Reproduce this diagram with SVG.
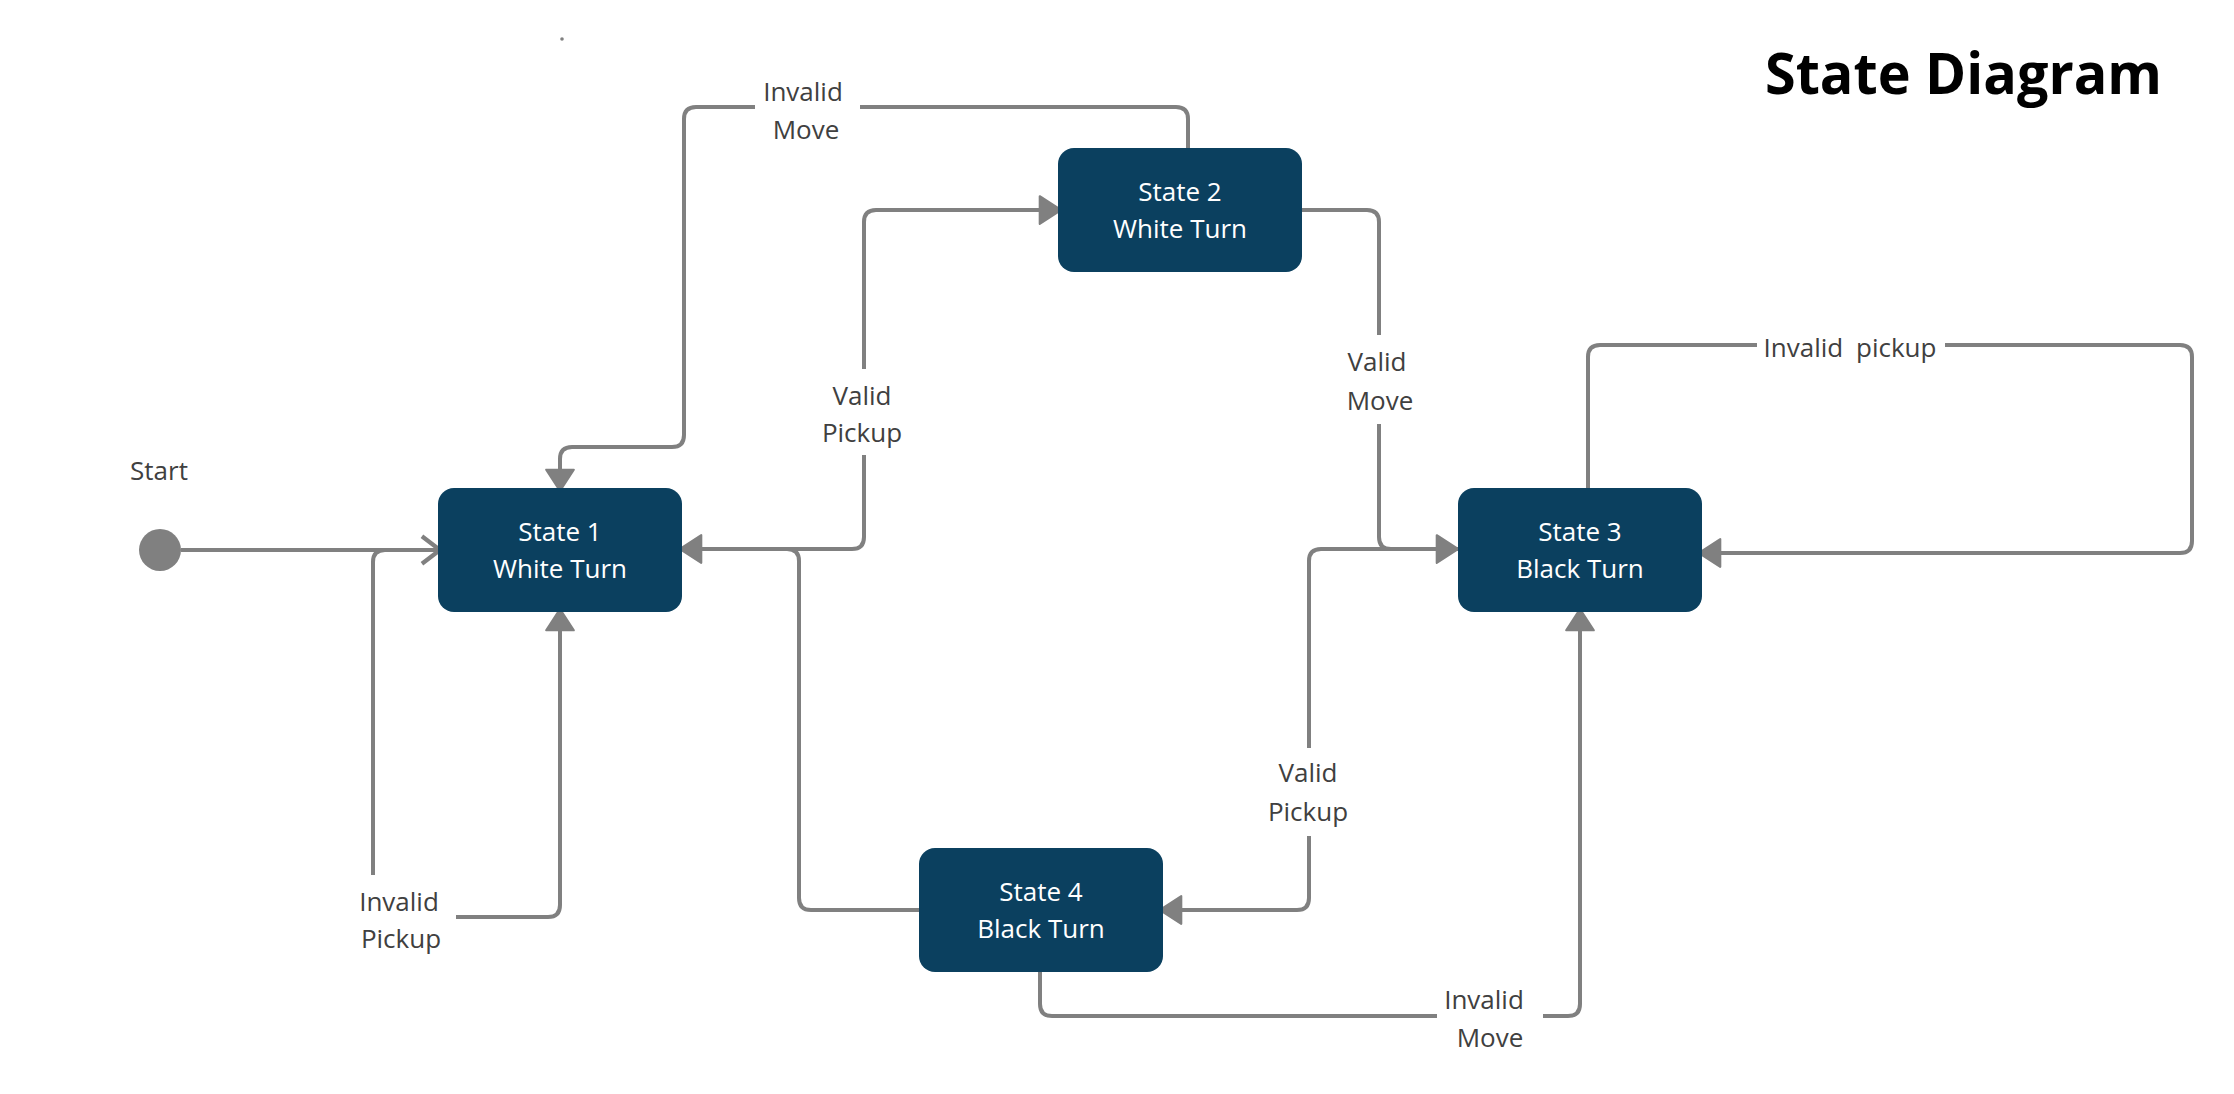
<svg xmlns="http://www.w3.org/2000/svg" width="2234" height="1094" viewBox="0 0 2234 1094">
<style>
.box{fill:#0b405f;}
.bt{font-family:"Open Sans","Noto Sans","Liberation Sans",sans-serif;font-size:26px;fill:#ffffff;text-anchor:middle;}
.lb{font-family:"Open Sans","Noto Sans","Liberation Sans",sans-serif;font-size:26px;fill:#404040;text-anchor:middle;}
.ln{fill:none;stroke:#808080;stroke-width:4;stroke-linecap:butt;stroke-linejoin:round;}
.arr{marker-end:url(#fa);}
</style>
<defs>
<marker id="fa" markerUnits="userSpaceOnUse" markerWidth="30" markerHeight="34" viewBox="-2 -2 26 32" refX="20" refY="13" orient="auto" overflow="visible">
<path d="M0,0 L20,13 L0,26 z" fill="#808080" stroke="#808080" stroke-width="2" stroke-linejoin="round"/>
</marker>
<marker id="oa" markerUnits="userSpaceOnUse" markerWidth="30" markerHeight="34" viewBox="-3 -3 26 32" refX="17" refY="13" orient="auto" overflow="visible">
<path d="M0,0 L17,13 L0,26" fill="none" stroke="#808080" stroke-width="4" stroke-linejoin="miter"/>
</marker>
</defs>
<rect width="2234" height="1094" fill="#ffffff"/>
<text x="1765" y="94" font-family="'Open Sans','Noto Sans','Liberation Sans',sans-serif" font-weight="bold" font-size="58" fill="#000000" textLength="397" lengthAdjust="spacingAndGlyphs">State Diagram</text>
<circle cx="562" cy="39" r="1.8" fill="#808080"/>
<g id="connectors">
<path class="ln" d="M181 550 H440" marker-end="url(#oa)"/>
<path class="ln" d="M373 875 V562 Q373 550 385 550 H430"/>
<path class="ln arr" d="M456 917 H548 Q560 917 560 905 V609"/>
<path class="ln" d="M1188 148 V119 Q1188 107 1176 107 H860"/>
<path class="ln arr" d="M755 107 H696 Q684 107 684 119 V435 Q684 447 672 447 H572 Q560 447 560 459 V491"/>
<path class="ln" d="M680 549 H852 Q864 549 864 537 V455"/>
<path class="ln arr" d="M864 369 V222 Q864 210 876 210 H1061"/>
<path class="ln arr" d="M919 910 H811 Q799 910 799 898 V561 Q799 549 787 549 H680"/>
<path class="ln" d="M1302 210 H1367 Q1379 210 1379 222 V335"/>
<path class="ln arr" d="M1379 424 V537 Q1379 549 1391 549 H1458"/>
<path class="ln" d="M1456 549 H1321 Q1309 549 1309 561 V748"/>
<path class="ln arr" d="M1309 836 V898 Q1309 910 1297 910 H1160"/>
<path class="ln" d="M1588 488 V357 Q1588 345 1600 345 H1757"/>
<path class="ln arr" d="M1945 345 H2180 Q2192 345 2192 357 V541 Q2192 553 2180 553 H1699"/>
<path class="ln" d="M1040 972 V1004 Q1040 1016 1052 1016 H1437"/>
<path class="ln arr" d="M1543 1016 H1568 Q1580 1016 1580 1004 V609"/>
</g>
<g id="start">
<circle cx="160" cy="550" r="21" fill="#808080"/>
<text class="lb" x="159" y="480">Start</text>
</g>
<g id="state1">
<rect class="box" x="438" y="488" width="244" height="124" rx="16"/>
<text class="bt" x="560" y="541">State 1</text>
<text class="bt" x="560" y="578">White Turn</text>
</g>
<g id="state2">
<rect class="box" x="1058" y="148" width="244" height="124" rx="16"/>
<text class="bt" x="1180" y="201">State 2</text>
<text class="bt" x="1180" y="238">White Turn</text>
</g>
<g id="state3">
<rect class="box" x="1458" y="488" width="244" height="124" rx="16"/>
<text class="bt" x="1580" y="541">State 3</text>
<text class="bt" x="1580" y="578">Black Turn</text>
</g>
<g id="state4">
<rect class="box" x="919" y="848" width="244" height="124" rx="16"/>
<text class="bt" x="1041" y="901">State 4</text>
<text class="bt" x="1041" y="938">Black Turn</text>
</g>
<g id="labels">
<text class="lb" x="399" y="911">Invalid</text>
<text class="lb" x="401" y="948">Pickup</text>
<text class="lb" x="803" y="101">Invalid</text>
<text class="lb" x="806" y="139">Move</text>
<text class="lb" x="862" y="405">Valid</text>
<text class="lb" x="862" y="442">Pickup</text>
<text class="lb" x="1377" y="371">Valid</text>
<text class="lb" x="1380" y="410">Move</text>
<text class="lb" x="1308" y="782">Valid</text>
<text class="lb" x="1308" y="821">Pickup</text>
<text class="lb" x="1850" y="357" word-spacing="6">Invalid pickup</text>
<text class="lb" x="1484" y="1009">Invalid</text>
<text class="lb" x="1490" y="1047">Move</text>
</g>
</svg>
